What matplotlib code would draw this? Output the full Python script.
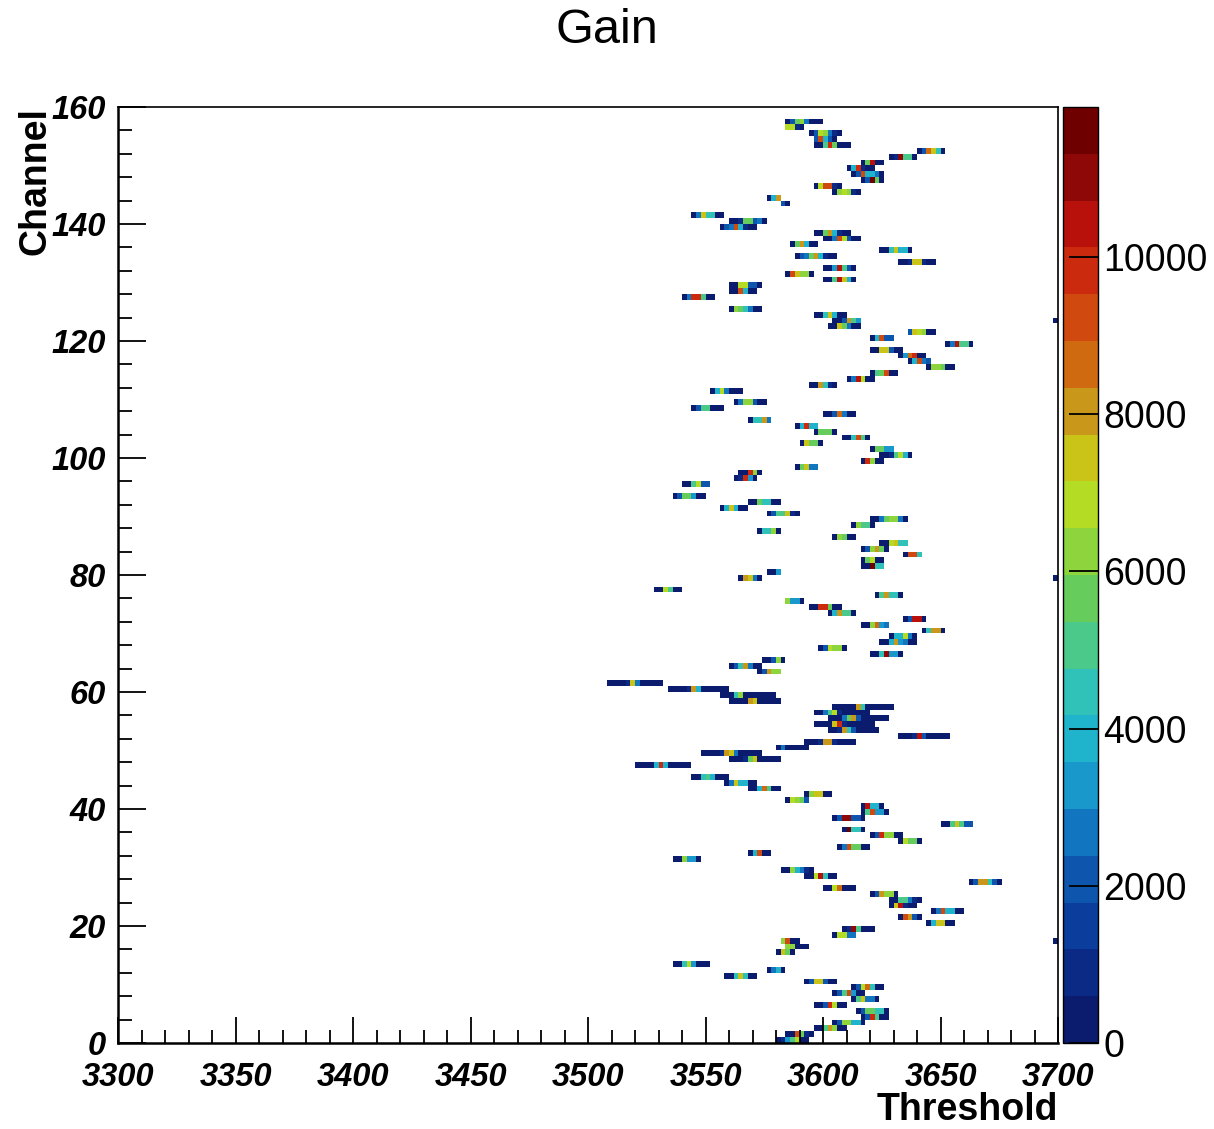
import numpy as np
import matplotlib
matplotlib.use("Agg")
import matplotlib.pyplot as plt
from matplotlib.colors import ListedColormap, BoundaryNorm

# channel, first threshold of the segment, bin contents (bin width 2)
chan = [157, 156, 155, 154, 153, 152, 151, 150, 149, 148,
        147, 146, 145, 144, 143, 141, 140, 139, 138, 137,
        136, 135, 134, 133, 132, 131, 130, 129, 128, 127,
        125, 124, 123, 123, 122, 121, 120, 119, 118, 117,
        116, 115, 114, 113, 112, 111, 109, 108, 107, 106,
        105, 104, 103, 102, 101, 100, 99, 98, 97, 96,
        95, 93, 92, 91, 90, 89, 88, 87, 86, 85,
        84, 83, 82, 81, 80, 79, 79, 77, 76, 75,
        74, 73, 72, 71, 70, 69, 68, 67, 66, 65,
        64, 63, 61, 60, 59, 58, 57, 56, 55, 54,
        53, 52, 51, 50, 49, 48, 47, 45, 44, 43,
        42, 41, 40, 39, 38, 37, 36, 35, 34, 33,
        32, 31, 29, 28, 27, 26, 25, 24, 23, 22,
        21, 20, 19, 18, 17, 17, 16, 15, 13, 12,
        11, 10, 9, 8, 7, 6, 5, 4, 3, 2,
        1, 0]
start = [3585, 3583, 3594, 3597, 3597, 3640, 3629, 3616, 3610, 3613,
         3616, 3597, 3605, 3575, 3582, 3543, 3561, 3557, 3595, 3599,
         3586, 3624, 3588, 3632, 3601, 3585, 3600, 3561, 3561, 3539,
         3559, 3595, 3603, 3698, 3602, 3635, 3620, 3652, 3620, 3631,
         3635, 3644, 3619, 3610, 3594, 3552, 3562, 3545, 3600, 3568,
         3588, 3595, 3609, 3590, 3620, 3623, 3615, 3589, 3564, 3562,
         3539, 3537, 3569, 3557, 3577, 3619, 3611, 3572, 3603, 3625,
         3616, 3634, 3616, 3617, 3577, 3565, 3698, 3527, 3622, 3583,
         3594, 3602, 3634, 3615, 3642, 3629, 3623, 3598, 3619, 3574,
         3559, 3572, 3507, 3534, 3557, 3561, 3603, 3595, 3602, 3596,
         3602, 3632, 3593, 3581, 3547, 3560, 3521, 3545, 3558, 3569,
         3592, 3584, 3616, 3615, 3605, 3650, 3609, 3620, 3632, 3606,
         3568, 3536, 3582, 3591, 3662, 3601, 3621, 3627, 3628, 3646,
         3633, 3644, 3608, 3604, 3582, 3698, 3583, 3580, 3536, 3576,
         3558, 3593, 3613, 3603, 3612, 3596, 3614, 3616, 3604, 3596,
         3585, 3579]
vals = [
    [300, 2200, 5700, 6300, 2700, 300, 300, 300],
    [6900, 6900, 900, 300],
    [300, 2200, 6900, 6300, 2700, 900, 300],
    [2200, 9200, 3900, 2200, 300],
    [300, 300, 5100, 9800, 5700, 300, 300, 300],
    [300, 2200, 8600, 7500, 4500, 300],
    [300, 900, 11000, 5100, 5100, 300],
    [300, 5700, 10400, 300, 300],
    [300, 3900, 9800, 900, 300, 300],
    [300, 2200, 9200, 3900, 3900, 2700, 300],
    [300, 2200, 11600, 5700, 300],
    [300, 6900, 9200, 9200, 900, 300],
    [300, 6300, 6900, 6300, 900, 300],
    [300, 3900, 8100],
    [2200, 300],
    [300, 2700, 7500, 4500, 4500, 300, 300],
    [300, 300, 900, 5700, 5700, 2200, 2700, 300],
    [300, 2200, 2700, 9200, 3900, 900, 300, 300],
    [300, 300, 5700, 8100, 3900, 900, 300, 300],
    [300, 300, 2700, 9200, 6900, 2200, 300, 300],
    [300, 5700, 8100, 3900, 300, 300],
    [300, 300, 4500, 7500, 3900, 3900, 300],
    [300, 2200, 2700, 5700, 8100, 3900, 900, 300, 300],
    [300, 300, 900, 7500, 7500, 900, 300, 300],
    [300, 300, 3300, 10400, 5100, 2200, 300],
    [300, 9200, 7500, 6300, 6300, 300],
    [300, 300, 5100, 10400, 7500, 3900, 300],
    [300, 300, 6900, 6900, 2200, 2200, 300],
    [300, 300, 9200, 3900, 300, 300],
    [300, 2700, 9800, 9800, 5100, 300, 300],
    [300, 6300, 5700, 4500, 2700, 300, 300],
    [300, 300, 4500, 7500, 3900, 300, 300],
    [300, 300, 2200, 8100, 5100, 3300],
    [300],
    [300, 300, 7500, 5700, 2700, 300, 300],
    [2200, 7500, 6900, 6300, 300, 300],
    [300, 3900, 9200, 2200, 2200],
    [300, 2700, 10400, 5100, 5100, 300],
    [300, 300, 7500, 7500, 2200, 300, 300],
    [300, 3300, 8600, 9800, 300, 300],
    [300, 3900, 9200, 2700, 2200],
    [300, 6300, 6300, 5700, 300, 300],
    [300, 5100, 5700, 9200, 300, 300],
    [300, 2700, 10400, 6900, 300, 300],
    [300, 300, 8100, 4500, 900, 300],
    [300, 3900, 6900, 2700, 300, 300, 300],
    [300, 2700, 6300, 6300, 2200, 300, 300],
    [300, 2200, 5100, 5100, 300, 300, 300],
    [300, 300, 2200, 8600, 2700, 300, 300],
    [300, 4500, 4500, 8100, 2700],
    [300, 3900, 9800, 3900, 3900],
    [300, 5700, 5700, 5700, 300],
    [300, 300, 4500, 9200, 5100, 300],
    [300, 7500, 5700, 5700, 300],
    [300, 5700, 5700, 3300, 3300],
    [300, 300, 900, 5100, 6900, 3900, 300],
    [300, 9800, 6300, 300, 300],
    [300, 5700, 7500, 2700, 2700],
    [300, 300, 9800, 6300, 300],
    [300, 900, 9800, 3300, 300],
    [300, 300, 5100, 6900, 2200, 2200],
    [300, 2200, 5700, 5700, 3300, 300, 300],
    [300, 300, 5700, 4500, 4500, 300, 300],
    [300, 3900, 7500, 3900, 300, 300],
    [300, 2200, 5100, 5100, 7500, 900, 300],
    [300, 300, 2700, 5700, 6300, 6300, 2700, 300],
    [300, 6300, 5100, 5100, 300],
    [300, 4500, 4500, 6300, 300],
    [300, 6300, 5700, 300, 300],
    [300, 300, 6900, 7500, 4500, 4500],
    [300, 2200, 6300, 8100, 5700, 300],
    [300, 9200, 9200, 4500],
    [300, 5700, 6900, 300, 300],
    [300, 300, 11600, 4500, 4500],
    [300, 300, 3300],
    [300, 8100, 7500, 2700, 300],
    [300],
    [300, 300, 6900, 5100, 300, 300],
    [300, 5100, 8100, 4500, 4500, 300],
    [6300, 3300, 3300, 300],
    [300, 300, 9800, 9800, 5700, 300, 300],
    [300, 3900, 8100, 5100, 5100, 300],
    [300, 2200, 10400, 10400, 300],
    [300, 300, 6300, 8600, 3300, 2700],
    [300, 4500, 8100, 8100, 300],
    [300, 3900, 3900, 6900, 2700, 300],
    [300, 300, 3900, 8100, 3300, 2700, 300, 300],
    [300, 2200, 6900, 6300, 6300, 300],
    [300, 300, 4500, 11000, 3300, 3300, 300],
    [300, 300, 2200, 6300, 300],
    [300, 2200, 4500, 8100, 2700, 300, 300],
    [300, 2200, 8100, 6300, 6300],
    [300, 300, 300, 300, 900, 7500, 2700, 300, 300, 300, 300, 300],
    [300, 300, 300, 300, 900, 8100, 3900, 300, 300, 300, 300, 300, 300],
    [300, 300, 300, 4500, 6300, 300, 300, 300, 300, 300, 300, 300],
    [300, 300, 300, 300, 8100, 7500, 300, 300, 300, 300, 300],
    [300, 300, 300, 300, 300, 8100, 4500, 300, 300, 300, 300, 300, 300],
    [300, 300, 2700, 5100, 6900, 900, 300, 300, 300, 300, 300, 300],
    [300, 300, 300, 2700, 5700, 8100, 2200, 300, 300, 300, 300, 300, 300],
    [300, 300, 300, 300, 7500, 9800, 900, 300, 300, 300, 300, 300, 300],
    [300, 300, 900, 8100, 4500, 2200, 300, 300, 300, 300, 300],
    [300, 300, 300, 900, 10400, 2200, 300, 300, 300, 300, 300],
    [300, 300, 300, 900, 8100, 8100, 900, 300, 300, 300, 300],
    [300, 2700, 300, 300, 300, 300, 300],
    [300, 300, 300, 300, 900, 8100, 7500, 2700, 300, 300, 300, 300, 300],
    [300, 300, 300, 900, 5700, 7500, 300, 300, 300, 300, 300],
    [300, 300, 300, 300, 3900, 9800, 3900, 300, 300, 300, 300, 300],
    [300, 300, 4500, 5100, 3900, 300, 300, 300],
    [300, 2700, 7500, 3900, 3900, 300, 300],
    [300, 300, 3900, 8600, 5100, 300, 300],
    [300, 6300, 7500, 7500, 300, 300],
    [300, 6900, 6300, 5700, 2200],
    [300, 10400, 3900, 3900, 300],
    [300, 5100, 9200, 3300, 3300, 300],
    [300, 2200, 11000, 11000, 2200, 2200, 300],
    [300, 300, 5100, 7500, 5100, 2200, 2200],
    [300, 11600, 4500, 4500, 300],
    [300, 2200, 9800, 6300, 6300, 300, 300],
    [300, 6900, 5700, 5700, 300],
    [300, 2700, 9200, 5700, 5700, 300, 300],
    [300, 3900, 9200, 300, 300],
    [300, 300, 6300, 3300, 3300, 300],
    [300, 300, 6300, 3900, 2700, 900, 300],
    [300, 300, 6900, 10400, 4500, 300, 300],
    [300, 2200, 8100, 8100, 4500, 2200, 300],
    [300, 300, 6900, 8600, 300, 300, 300],
    [300, 2200, 8100, 6300, 6300, 300],
    [300, 300, 5100, 5100, 2700, 900, 300],
    [300, 7500, 10400, 900, 300, 300],
    [300, 2700, 9200, 3900, 3900, 300, 300],
    [300, 9200, 8100, 2200, 300],
    [300, 3900, 7500, 7500, 300, 300],
    [300, 900, 11000, 5100, 300, 300, 300],
    [300, 6900, 6900, 2700, 2700],
    [6300, 9200, 300, 300],
    [300],
    [6300, 6300, 300, 300, 300],
    [300, 7500, 5700, 300],
    [300, 300, 4500, 6900, 3300, 300, 300, 300],
    [300, 2700, 3900, 300],
    [300, 300, 4500, 7500, 4500, 300, 300],
    [300, 2200, 7500, 7500, 2200, 300, 300],
    [300, 2200, 6900, 8600, 4500, 300, 300],
    [300, 2200, 5100, 9200, 3300, 300, 300],
    [300, 5100, 7500, 2700, 2700, 300],
    [300, 300, 2200, 9800, 6900, 300, 300],
    [300, 2200, 5700, 5700, 4500, 4500, 300],
    [300, 2200, 9800, 5100, 300, 300],
    [300, 2200, 6300, 6300, 3900, 3900, 300],
    [300, 300, 5100, 8100, 6300, 300, 300],
    [300, 300, 9200, 5700, 900, 300],
    [300, 900, 3300, 5100, 6900, 300, 300],
]

zmax = 11909
palette = ['#0b1c6e', '#0b2a86', '#0b3d9c', '#0d55ad', '#1175c0',
           '#1898cb', '#1fb3cc', '#30c2b8', '#4bc98a', '#66cd5c',
           '#8ed43c', '#b5dc24', '#cbc418', '#c9981a', '#d06a10',
           '#d04a10', '#cc2a0e', '#b8110b', '#8e0808', '#6f0000']
levels = np.linspace(0, zmax, 21)
cmap = ListedColormap(palette)
norm = BoundaryNorm(levels, cmap.N)

xedges = np.arange(3300, 3702, 2)
yedges = np.arange(0, 161, 1)
Z = np.full((160, 200), np.nan)
for c, s, v in zip(chan, start, vals):
    i0 = int(round((s - 3300) / 2.0))
    Z[c, i0:i0 + len(v)] = v
Z = np.ma.masked_invalid(Z)

plt.rcParams['font.family'] = ['Liberation Sans', 'DejaVu Sans']
fig = plt.figure(figsize=(12.14, 11.29), dpi=100)
ax = fig.add_axes([0.0972, 0.0762, 0.7743, 0.8291])
cax = fig.add_axes([0.8756, 0.0762, 0.0288, 0.8291])

ax.pcolormesh(xedges, yedges, Z, cmap=cmap, norm=norm)
ax.set_xlim(3300, 3700)
ax.set_ylim(0, 160)
ax.set_xticks(np.arange(3300, 3701, 50))
ax.set_xticks(np.arange(3300, 3701, 10), minor=True)
ax.set_yticks(np.arange(0, 161, 20))
ax.set_yticks(np.arange(0, 161, 4), minor=True)
ax.tick_params(which='both', direction='in', top=False, right=False, width=1.3)
ax.tick_params(axis='x', which='major', length=19, pad=14)
ax.tick_params(axis='x', which='minor', length=9.5)
ax.tick_params(axis='y', which='major', length=20, pad=9)
ax.tick_params(axis='y', which='minor', length=10)
for lab in ax.get_xticklabels() + ax.get_yticklabels():
    lab.set_fontsize(23.5)
    lab.set_fontweight('bold')
    lab.set_fontstyle('italic')
for side in ['left', 'bottom']:
    ax.spines[side].set_linewidth(1.8)
for side in ['top', 'right']:
    ax.spines[side].set_linewidth(1.2)

cb = fig.colorbar(plt.cm.ScalarMappable(norm=norm, cmap=cmap), cax=cax,
                  ticks=np.arange(0, 10001, 2000))
cb.outline.set_linewidth(1.0)
cax.tick_params(direction='in', length=21, width=1.3, labelsize=27, pad=4, left=False, right=True)
cax.minorticks_off()

fig.text(0.8715, 0.0168, 'Threshold', ha='right', va='center',
         fontsize=27, fontweight='bold')
fig.text(0.029, 0.905, 'Channel', ha='center', va='top', rotation=90,
         fontsize=27, fontweight='bold')
fig.text(0.5, 0.973, 'Gain', ha='center', va='center', fontsize=35)

fig.savefig('out.png', dpi=100)
